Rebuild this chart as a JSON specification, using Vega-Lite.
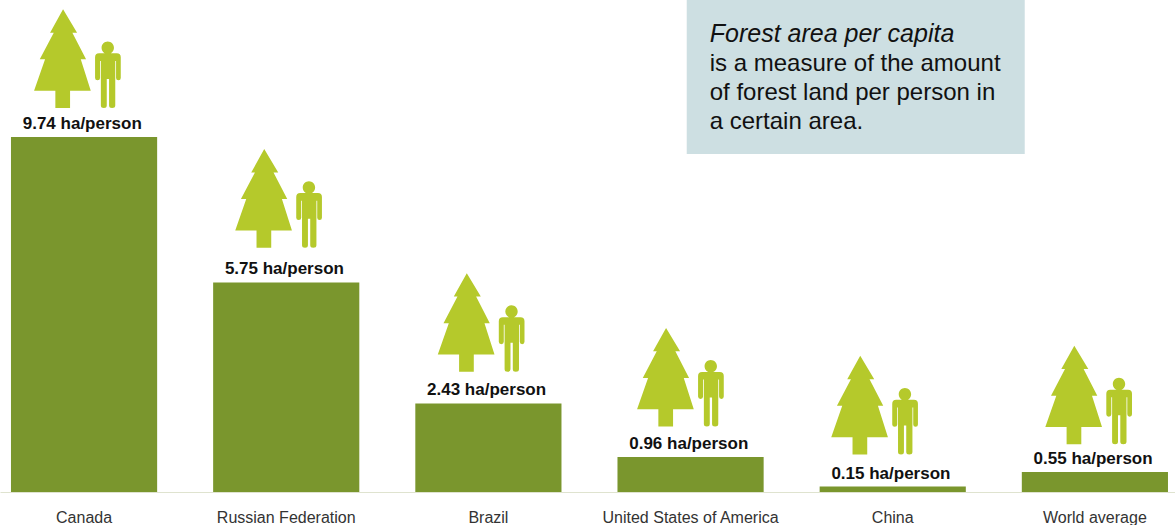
{
"$schema":"https://vega.github.io/schema/vega-lite/v6.json",
"width":1175,"height":492,
"padding":{"left":0,"top":0,"right":0,"bottom":33},
"autosize":{"type":"none"},
"background":"white",
"config":{"view":{"stroke":null},"font":"Liberation Sans"},
"datasets":{
"rows":[
{"country":"Canada","value":9.74,"label":"9.74 ha/person"},
{"country":"Russian Federation","value":5.75,"label":"5.75 ha/person"},
{"country":"Brazil","value":2.43,"label":"2.43 ha/person"},
{"country":"United States of America","value":0.96,"label":"0.96 ha/person"},
{"country":"China","value":0.15,"label":"0.15 ha/person"},
{"country":"World average","value":0.55,"label":"0.55 ha/person"}
]},
"data":{"name":"rows"},
"encoding":{
"x":{"field":"country","type":"nominal","sort":null,"title":null,
"scale":{"type":"band","domain":["Canada","Russian Federation","Brazil","United States of America","China","World average"],"paddingInner":0.277,"paddingOuter":0.0445,"align":0.61},
"axis":{"labelAngle":0,"ticks":false,"domainColor":"#dfe3cf","domainWidth":1,"labelFontSize":16,"labelColor":"#333333","labelPadding":17,"labelLimit":0,"labelOverlap":false,"grid":false}},
"y":{"field":"value","type":"quantitative","title":null,"scale":{"domain":[0,13.498],"nice":false,"zero":true},"axis":null}
},
"layer":[
{"mark":{"type":"bar","color":"#7a962d"}},
{"mark":{"type":"text","fontWeight":"bold","fontSize":17,"color":"#111111","baseline":"middle","xOffset":-1.8,"yOffset":-13},"encoding":{"text":{"field":"label"}}},
{"transform":[{"filter":"datum.country==='Canada'"}],"mark":{"type":"point","filled":true,"opacity":1,"size":4,"color":"#b5c92b","xOffset":-21,"yOffset":-29,
"shape":"M0,-98.7L14,-75.3L9.3,-75.3L23,-48.7L17.7,-48.7L27.7,-17.3L7,-17.3L7,0L-7.7,0L-7.7,-17.3L-29,-17.3L-18,-48.7L-23.3,-48.7L-9.3,-75.3L-13,-75.3ZM38.5,-60.3A6.2,6.2,0,1,1,50.9,-60.3A6.2,6.2,0,1,1,38.5,-60.3ZM36,-54.7L53.7,-54.7Q57.7,-54.7,57.7,-50.7L57.7,-30Q57.7,-27.7,55.4,-27.7Q53,-27.7,53,-30L53,-47L52.2,-47L52.2,-2.5Q52.2,0,49,0Q46,0,46,-2.5L46,-29L43.7,-29L43.7,-2.5Q43.7,0,40.8,0Q37.8,0,37.8,-2.5L37.8,-47L37,-47L37,-30Q37,-27.7,34.5,-27.7Q32,-27.7,32,-30L32,-50.7Q32,-54.7,36,-54.7Z"}},
{"transform":[{"filter":"datum.country==='Russian Federation'"}],"mark":{"type":"point","filled":true,"opacity":1,"size":4,"color":"#b5c92b","xOffset":-22,"yOffset":-34.6,
"shape":"M0,-98.7L14,-75.3L9.3,-75.3L23,-48.7L17.7,-48.7L27.7,-17.3L7,-17.3L7,0L-7.7,0L-7.7,-17.3L-29,-17.3L-18,-48.7L-23.3,-48.7L-9.3,-75.3L-13,-75.3ZM38.5,-60.3A6.2,6.2,0,1,1,50.9,-60.3A6.2,6.2,0,1,1,38.5,-60.3ZM36,-54.7L53.7,-54.7Q57.7,-54.7,57.7,-50.7L57.7,-30Q57.7,-27.7,55.4,-27.7Q53,-27.7,53,-30L53,-47L52.2,-47L52.2,-2.5Q52.2,0,49,0Q46,0,46,-2.5L46,-29L43.7,-29L43.7,-2.5Q43.7,0,40.8,0Q37.8,0,37.8,-2.5L37.8,-47L37,-47L37,-30Q37,-27.7,34.5,-27.7Q32,-27.7,32,-30L32,-50.7Q32,-54.7,36,-54.7Z"}},
{"transform":[{"filter":"datum.country==='Brazil'"}],"mark":{"type":"point","filled":true,"opacity":1,"size":4,"color":"#b5c92b","xOffset":-21.6,"yOffset":-31.6,
"shape":"M0,-98.7L14,-75.3L9.3,-75.3L23,-48.7L17.7,-48.7L27.7,-17.3L7,-17.3L7,0L-7.7,0L-7.7,-17.3L-29,-17.3L-18,-48.7L-23.3,-48.7L-9.3,-75.3L-13,-75.3ZM38.5,-60.3A6.2,6.2,0,1,1,50.9,-60.3A6.2,6.2,0,1,1,38.5,-60.3ZM36,-54.7L53.7,-54.7Q57.7,-54.7,57.7,-50.7L57.7,-30Q57.7,-27.7,55.4,-27.7Q53,-27.7,53,-30L53,-47L52.2,-47L52.2,-2.5Q52.2,0,49,0Q46,0,46,-2.5L46,-29L43.7,-29L43.7,-2.5Q43.7,0,40.8,0Q37.8,0,37.8,-2.5L37.8,-47L37,-47L37,-30Q37,-27.7,34.5,-27.7Q32,-27.7,32,-30L32,-50.7Q32,-54.7,36,-54.7Z"}},
{"transform":[{"filter":"datum.country==='United States of America'"}],"mark":{"type":"point","filled":true,"opacity":1,"size":4,"color":"#b5c92b","xOffset":-24.5,"yOffset":-30.4,
"shape":"M0,-98.7L14,-75.3L9.3,-75.3L23,-48.7L17.7,-48.7L27.7,-17.3L7,-17.3L7,0L-7.7,0L-7.7,-17.3L-29,-17.3L-18,-48.7L-23.3,-48.7L-9.3,-75.3L-13,-75.3ZM38.5,-60.3A6.2,6.2,0,1,1,50.9,-60.3A6.2,6.2,0,1,1,38.5,-60.3ZM36,-54.7L53.7,-54.7Q57.7,-54.7,57.7,-50.7L57.7,-30Q57.7,-27.7,55.4,-27.7Q53,-27.7,53,-30L53,-47L52.2,-47L52.2,-2.5Q52.2,0,49,0Q46,0,46,-2.5L46,-29L43.7,-29L43.7,-2.5Q43.7,0,40.8,0Q37.8,0,37.8,-2.5L37.8,-47L37,-47L37,-30Q37,-27.7,34.5,-27.7Q32,-27.7,32,-30L32,-50.7Q32,-54.7,36,-54.7Z"}},
{"transform":[{"filter":"datum.country==='China'"}],"mark":{"type":"point","filled":true,"opacity":1,"size":4,"color":"#b5c92b","xOffset":-32.5,"yOffset":-32,
"shape":"M0,-98.7L14,-75.3L9.3,-75.3L23,-48.7L17.7,-48.7L27.7,-17.3L7,-17.3L7,0L-7.7,0L-7.7,-17.3L-29,-17.3L-18,-48.7L-23.3,-48.7L-9.3,-75.3L-13,-75.3ZM38.5,-60.3A6.2,6.2,0,1,1,50.9,-60.3A6.2,6.2,0,1,1,38.5,-60.3ZM36,-54.7L53.7,-54.7Q57.7,-54.7,57.7,-50.7L57.7,-30Q57.7,-27.7,55.4,-27.7Q53,-27.7,53,-30L53,-47L52.2,-47L52.2,-2.5Q52.2,0,49,0Q46,0,46,-2.5L46,-29L43.7,-29L43.7,-2.5Q43.7,0,40.8,0Q37.8,0,37.8,-2.5L37.8,-47L37,-47L37,-30Q37,-27.7,34.5,-27.7Q32,-27.7,32,-30L32,-50.7Q32,-54.7,36,-54.7Z"}},
{"transform":[{"filter":"datum.country==='World average'"}],"mark":{"type":"point","filled":true,"opacity":1,"size":4,"color":"#b5c92b","xOffset":-20.6,"yOffset":-27.6,
"shape":"M0,-98.7L14,-75.3L9.3,-75.3L23,-48.7L17.7,-48.7L27.7,-17.3L7,-17.3L7,0L-7.7,0L-7.7,-17.3L-29,-17.3L-18,-48.7L-23.3,-48.7L-9.3,-75.3L-13,-75.3ZM38.5,-60.3A6.2,6.2,0,1,1,50.9,-60.3A6.2,6.2,0,1,1,38.5,-60.3ZM36,-54.7L53.7,-54.7Q57.7,-54.7,57.7,-50.7L57.7,-30Q57.7,-27.7,55.4,-27.7Q53,-27.7,53,-30L53,-47L52.2,-47L52.2,-2.5Q52.2,0,49,0Q46,0,46,-2.5L46,-29L43.7,-29L43.7,-2.5Q43.7,0,40.8,0Q37.8,0,37.8,-2.5L37.8,-47L37,-47L37,-30Q37,-27.7,34.5,-27.7Q32,-27.7,32,-30L32,-50.7Q32,-54.7,36,-54.7Z"}},
{"data":{"values":[{"country":"China","top":13.498,"bottom":9.27}]},
 "mark":{"type":"bar","color":"#cddfe2","width":338,"xOffset":-37},
 "encoding":{"y":{"field":"top","type":"quantitative"},"y2":{"field":"bottom"}}},
{"data":{"values":[{"country":"China","pos":12.35,"note":"Forest area per capita"}]},
 "mark":{"type":"text","align":"left","baseline":"alphabetic","fontSize":25,"fontStyle":"italic","color":"#111111","xOffset":-183},
 "encoding":{"y":{"field":"pos","type":"quantitative"},"text":{"field":"note"}}},
{"data":{"values":[{"country":"China","pos":11.55,"note":"is a measure of the amount\nof forest land per person in\na certain area."}]},
 "mark":{"type":"text","align":"left","baseline":"alphabetic","fontSize":24,"lineBreak":"\n","lineHeight":29,"color":"#111111","xOffset":-183},
 "encoding":{"y":{"field":"pos","type":"quantitative"},"text":{"field":"note"}}}
]
}
